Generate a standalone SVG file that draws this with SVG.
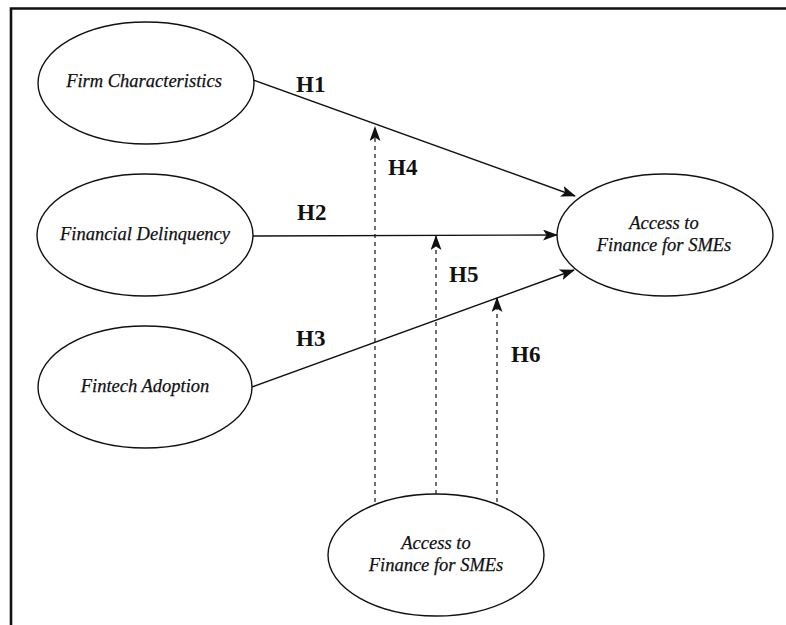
<svg xmlns="http://www.w3.org/2000/svg" width="786" height="625" viewBox="0 0 786 625">
<style>
.node ellipse{fill:#fff;stroke:#111;stroke-width:1.4}
.nt{font-family:"Liberation Serif","Times New Roman",serif;font-style:italic;font-size:18.5px;fill:#111;text-anchor:middle;stroke:#111;stroke-width:0.25}
.lbl{font-family:"Liberation Serif","Times New Roman",serif;font-weight:bold;font-size:23px;fill:#111}
.solid{stroke:#111;stroke-width:1.4;fill:none}
.dash{stroke:#111;stroke-width:1.2;fill:none;stroke-dasharray:4 4}
.frame{stroke:#111;stroke-width:2.6;fill:none}
</style>
<defs>
<marker id="arr" viewBox="0 0 15 11" refX="14" refY="5.5" markerWidth="15" markerHeight="11" markerUnits="userSpaceOnUse" orient="auto">
<path d="M0,0 L15,5.5 L0,11 L3.5,5.5 z" fill="#111"/>
</marker>
</defs>
<rect width="786" height="625" fill="#fff"/>
<g id="frame">
<path class="frame" d="M11,625 L11,8.5 L786,8.5"/>
</g>
<g id="connectors">
<line class="solid" x1="253" y1="80" x2="575" y2="196" marker-end="url(#arr)"/>
<line class="solid" x1="252" y1="236" x2="557" y2="235" marker-end="url(#arr)"/>
<line class="solid" x1="252" y1="387" x2="574" y2="270" marker-end="url(#arr)"/>
<line class="dash" x1="375" y1="502" x2="375" y2="127" marker-end="url(#arr)"/>
<line class="dash" x1="436" y1="494" x2="436" y2="236" marker-end="url(#arr)"/>
<line class="dash" x1="497" y1="502" x2="497" y2="298" marker-end="url(#arr)"/>
<text class="lbl" x="296" y="92">H1</text>
<text class="lbl" x="388" y="175">H4</text>
<text class="lbl" x="297" y="220">H2</text>
<text class="lbl" x="449" y="282">H5</text>
<text class="lbl" x="296" y="346">H3</text>
<text class="lbl" x="511" y="362">H6</text>
</g>
<g id="firm" class="node">
<ellipse cx="146" cy="83" rx="108" ry="61"/>
<text class="nt" x="144" y="87">Firm Characteristics</text>
</g>
<g id="delinquency" class="node">
<ellipse cx="145" cy="235" rx="108" ry="61"/>
<text class="nt" x="145" y="240">Financial Delinquency</text>
</g>
<g id="fintech" class="node">
<ellipse cx="145" cy="387" rx="107" ry="61"/>
<text class="nt" x="145" y="392">Fintech Adoption</text>
</g>
<g id="access" class="node">
<ellipse cx="665" cy="235" rx="108" ry="61"/>
<text class="nt" x="664" y="229">Access to</text>
<text class="nt" x="664" y="251">Finance for SMEs</text>
</g>
<g id="moderator" class="node">
<ellipse cx="436" cy="555" rx="108" ry="61"/>
<text class="nt" x="436" y="549">Access to</text>
<text class="nt" x="436" y="571">Finance for SMEs</text>
</g>
</svg>
